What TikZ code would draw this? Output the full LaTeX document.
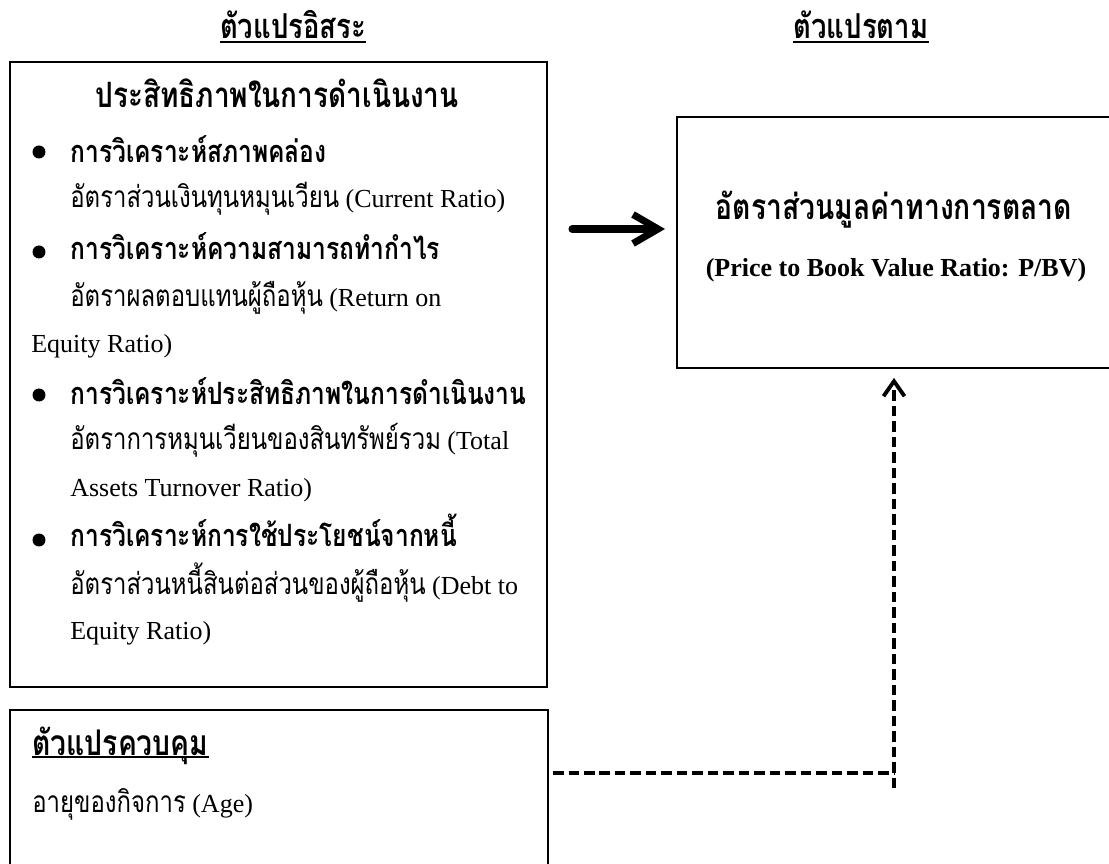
\documentclass[tikz,border=0pt]{standalone}
\usepackage{fontspec}
\setmainfont{Liberation Serif}
\newfontfamily\thai[Script=Thai, Scale=1.15, FakeStretch=0.80]{Loma}
\usetikzlibrary{arrows.meta, positioning}

\begin{document}
\begin{tikzpicture}[
    x=0.02cm, y=-0.02cm,
    box/.style={draw, line width=1.1pt, inner sep=0, anchor=north west},
    ttl/.style={anchor=base, inner sep=0, font=\thai\bfseries\fontsize{17}{18}\selectfont},
    txt/.style={anchor=base west, inner sep=0, font=\fontsize{14.8}{18}\selectfont},
    hd/.style={anchor=base west, inner sep=0, font=\thai\bfseries\fontsize{15.2}{18}\selectfont},
    bul/.style={circle, fill, inner sep=0, minimum size=0.26cm},
    arr/.style={-{Straight Barb[length=0.5cm, width=0.58cm]}, line width=4pt,
                line cap=round, line join=round},
    dsh/.style={line width=2.2pt, dash pattern=on 0.21cm off 0.1cm},
]
    \useasboundingbox (0,0) rectangle (1109,864);

    \node[ttl] (indtitle) at (293,39) {ตัวแปรอิสระ};
    \node[ttl] (deptitle) at (861,39) {ตัวแปรตาม};
    \draw[line width=0.9pt] ([yshift=-0.06cm]indtitle.base west) -- ([yshift=-0.06cm]indtitle.base east);
    \draw[line width=0.9pt] ([yshift=-0.06cm]deptitle.base west) -- ([yshift=-0.06cm]deptitle.base east);

    \node[box, minimum width=10.74cm, minimum height=12.5cm] (indep) at (9,61) {};
    \node[box, minimum width=8.88cm, minimum height=5.02cm] (dep) at (676,116) {};
    \node[box, minimum width=10.76cm, minimum height=3.6cm] (ctrl) at (9,709) {};

    \node[ttl, font=\thai\bfseries\fontsize{17.3}{18}\selectfont] (effhead) at (277,108) {ประสิทธิภาพในการดำเนินงาน};

    \node[bul] (b1) at (39,152) {};
    \node[hd] (liq) at (70,163) {การวิเคราะห์สภาพคล่อง};
    \node[txt] (cr) at (70,208) {{\thai อัตราส่วนเงินทุนหมุนเวียน} (Current Ratio)};

    \node[bul] (b2) at (39,252) {};
    \node[hd] (prof) at (70,260) {การวิเคราะห์ความสามารถทำกำไร};
    \node[txt] (roe) at (70,307) {{\thai อัตราผลตอบแทนผู้ถือหุ้น} (Return on};
    \node[txt] (roe2) at (31,353) {Equity Ratio)};

    \node[bul] (b3) at (39,395) {};
    \node[hd] (effi) at (70,405) {การวิเคราะห์ประสิทธิภาพในการดำเนินงาน};
    \node[txt] (tat) at (70,450) {{\thai อัตราการหมุนเวียนของสินทรัพย์รวม} (Total};
    \node[txt] (tat2) at (70,497) {Assets Turnover Ratio)};

    \node[bul] (b4) at (39,540) {};
    \node[hd] (lev) at (70,547) {การวิเคราะห์การใช้ประโยชน์จากหนี้};
    \node[txt] (de) at (70,595) {{\thai อัตราส่วนหนี้สินต่อส่วนของผู้ถือหุ้น} (Debt to};
    \node[txt] (de2) at (70,640) {Equity Ratio)};

    \node[ttl, font=\thai\bfseries\fontsize{17.5}{18}\selectfont] (pbv) at (894,220) {อัตราส่วนมูลค่าทางการตลาด};
    \node[anchor=base, inner sep=0, font=\bfseries\fontsize{14.8}{18}\selectfont] (pbv2) at (896,277)
        {(Price to Book Value Ratio: P/BV)};

    \node[hd, font=\thai\bfseries\fontsize{17.5}{18}\selectfont] (ctrlhead) at (32,755) {ตัวแปรควบคุม};
    \draw[line width=0.9pt] ([yshift=-0.04cm]ctrlhead.base west) -- ([yshift=-0.04cm]ctrlhead.base east);
    \node[txt] (age) at (32,812) {{\thai อายุของกิจการ} (Age)};

    \coordinate (a1) at (572,229);
    \draw[arr] (a1) -- ([xshift=-0.22cm]a1 -| dep.west);

    \coordinate (c1) at (553,773);
    \coordinate (c2) at (894,773);
    \coordinate (c3) at (894,788);
    \draw[dsh] (c1) -- (c2);
    \draw[dsh, -{Straight Barb[length=0.3cm, width=0.42cm]}, line join=round] (c3) -- ([yshift=-0.18cm]c3 |- dep.south);
\end{tikzpicture}
\end{document}
